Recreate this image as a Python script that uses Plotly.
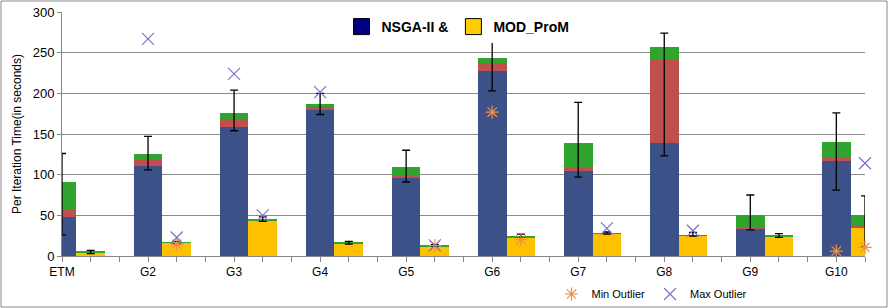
import plotly.graph_objects as go

categories = ["ETM", "G2", "G3", "G4", "G5", "G6", "G7", "G8", "G9", "G10"]

# NSGA-II stacked segments
nsga_base = [48, 111, 158, 179, 96, 228, 104.6, 139, 34, 117]
nsga_red = [8.4, 7, 11, 4, 3.3, 9.5, 3.3, 103, 1, 3]
nsga_green = [34, 7.5, 7, 4.5, 10, 6, 31, 14.5, 16, 20]
# MOD_ProM stacked segments
mod_base = [4.5, 16, 44, 15.8, 12, 22.8, 27.2, 24.6, 23.8, 34.6]
mod_red = [0, 0, 0, 0, 0, 0, 0, 0, 0, 4.1]
mod_green = [1, 1, 1, 1, 1.5, 1, 1, 1, 1, 11.2]

# error ranges (low, high)
nsga_err_lo = [26, 106, 154, 174, 91, 203, 97, 123, 32, 81]
nsga_err_hi = [126, 147, 204, 200, 130, 263, 189, 274, 75, 176]
mod_err_lo = [3, 15, 42.5, 14.5, 12, 23, 27, 24.5, 23, 11]
mod_err_hi = [7, 18, 48, 18, 14, 27, 29.5, 29, 27.5, 74]

# outliers
min_nsga = [None, None, None, None, None, 177, None, None, None, 6]
min_mod = [None, 14.5, None, None, 12.8, 20, None, None, None, 10.5]
max_nsga = [None, 267, 224, 201.5, None, None, None, None, None, None]
max_mod = [None, 22.7, 50, None, 13, None, 34, 31, None, 114]

n = len(categories)
xn = [3 * i for i in range(n)]
xm = [3 * i + 1 for i in range(n)]

BLUE = "#3D5189"
RED = "#C0504D"
GREEN = "#2FA52F"
YEL = "#FFC000"

fig = go.Figure()
for xs, ys, col in [(xn, nsga_base, BLUE), (xm, mod_base, YEL),
                    (xn, nsga_red, RED), (xm, mod_red, RED),
                    (xn, nsga_green, GREEN), (xm, mod_green, GREEN)]:
    fig.add_trace(go.Bar(x=xs, y=ys, width=1, marker=dict(color=col, line=dict(width=0)),
                         showlegend=False, hoverinfo="skip"))

# error bars
for xs, lo, hi in [(xn, nsga_err_lo, nsga_err_hi), (xm, mod_err_lo, mod_err_hi)]:
    mid = [(a + b) / 2 for a, b in zip(lo, hi)]
    half = [(b - a) / 2 for a, b in zip(lo, hi)]
    fig.add_trace(go.Scatter(x=xs, y=mid, mode="markers", marker=dict(size=0.1, opacity=0),
                             error_y=dict(type="data", array=half, symmetric=True,
                                          color="black", thickness=1.3, width=4),
                             showlegend=False, hoverinfo="skip", cliponaxis=True))

# outliers
fig.add_trace(go.Scatter(x=xn + xm, y=min_nsga + min_mod, mode="markers", name="Min Outlier",
                         marker=dict(symbol="asterisk-open", size=11, color="#F0904A",
                                     line=dict(color="#F0904A", width=1.2)),
                         legend="legend2", cliponaxis=False))
fig.add_trace(go.Scatter(x=xn + xm, y=max_nsga + max_mod, mode="markers", name="Max Outlier",
                         marker=dict(symbol="x-thin-open", size=12, color="#7B6FCF",
                                     line=dict(color="#7B6FCF", width=1.2)),
                         legend="legend2", cliponaxis=False))

# top legend entries
fig.add_trace(go.Scatter(x=[None], y=[None], mode="markers", name="<b>NSGA-II &</b>",
                         marker=dict(symbol="square", size=16, color="#000080",
                                     line=dict(color="black", width=1))))
fig.add_trace(go.Scatter(x=[None], y=[None], mode="markers", name="<b>MOD_ProM</b>",
                         marker=dict(symbol="square", size=16, color="#FFCC00",
                                     line=dict(color="black", width=1))))

tickvals = list(range(3 * n - 1))
ticktext = [categories[v // 3] if v % 3 == 0 else "" for v in tickvals]

L, R, T, B = 62, 23, 12, 52
W, H = 888 - L - R, 308 - T - B

fig.update_layout(
    width=888, height=308,
    margin=dict(l=L, r=R, t=T, b=B, autoexpand=False),
    barmode="stack", bargap=0,
    plot_bgcolor="white", paper_bgcolor="white",
    font=dict(family="Liberation Sans", size=12, color="black"),
    xaxis=dict(range=[0, 3 * n - 2], tickmode="array", tickvals=tickvals, ticktext=ticktext,
               ticks="outside", ticklen=5, tickcolor="#868686", showline=True,
               linecolor="#868686", linewidth=1, showgrid=False, zeroline=False,
               tickfont=dict(size=12), automargin=False),
    yaxis=dict(range=[0, 300], dtick=50, ticks="outside", ticklen=4, tickcolor="#868686",
               showline=True, linecolor="#868686", gridcolor="#8C8C8C", gridwidth=1,
               zeroline=False, tickfont=dict(size=13), automargin=False,
               title=dict(text="Per Iteration Time(in seconds)", font=dict(size=12), standoff=8)),
    legend=dict(orientation="h", xref="container", yref="container",
                x=458 / 888, xanchor="center", y=1 - 27 / 308, yanchor="middle",
                bgcolor="white", font=dict(size=14, family="Liberation Sans"),
                traceorder="normal"),
    legend2=dict(orientation="h", xref="container", yref="container",
                 x=652 / 888, xanchor="center", y=1 - 294 / 308,
                 yanchor="middle", bgcolor="rgba(0,0,0,0)", font=dict(size=11)),
    shapes=[dict(type="rect", xref="paper", yref="paper",
                 x0=(1 - L) / W, x1=(887 - L) / W, y0=-(307 - T - H) / H, y1=(H + T - 1) / H,
                 line=dict(color="#888888", width=1))],
)
fig.write_html("out.html", config={"displayModeBar": False},
               post_script="document.body.style.margin='0px';document.body.style.overflow='hidden';")
